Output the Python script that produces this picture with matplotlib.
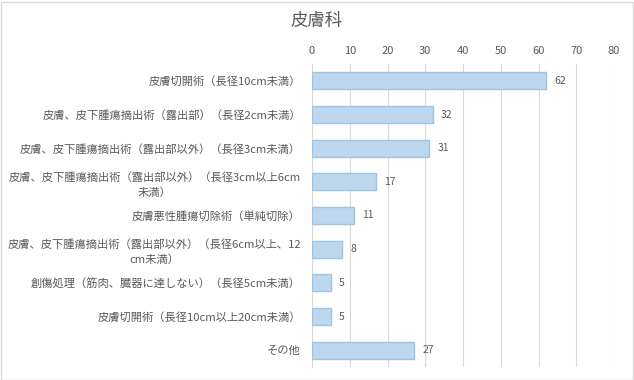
import matplotlib
matplotlib.use("Agg")
import matplotlib.pyplot as plt
from matplotlib.patches import Rectangle

plt.rcParams['font.family'] = ['Noto Sans CJK JP', 'DejaVu Sans']

categories = [
    "皮膚切開術（長径10cm未満）",
    "皮膚、皮下腫瘍摘出術（露出部）（長径2cm未満）",
    "皮膚、皮下腫瘍摘出術（露出部以外）（長径3cm未満）",
    "皮膚、皮下腫瘍摘出術（露出部以外）（長径3cm以上6cm\n未満）",
    "皮膚悪性腫瘍切除術（単純切除）",
    "皮膚、皮下腫瘍摘出術（露出部以外）（長径6cm以上、12\ncm未満）",
    "創傷処理（筋肉、臓器に達しない）（長径5cm未満）",
    "皮膚切開術（長径10cm以上20cm未満）",
    "その他",
]
values = [62, 32, 31, 17, 11, 8, 5, 5, 27]
ticks = [0, 10, 20, 30, 40, 50, 60, 70, 80]

text_color = "#595959"

fig = plt.figure(figsize=(6.34, 3.80), dpi=100)
ax = fig.add_axes([312 / 634, 13 / 380, 302 / 634, 303 / 380])

ypos = list(range(len(values)))
ax.barh(ypos, values, height=0.5, color="#BDD7EE", edgecolor="#9DC3E6", linewidth=1, zorder=3)
for y, v in zip(ypos, values):
    ax.text(v + 2.2, y, str(v), va="center", ha="left", fontsize=7.5, color=text_color)

ax.set_xlim(0, 80)
ax.set_ylim(len(values) - 0.5, -0.5)
ax.set_xticks(ticks)
ax.xaxis.tick_top()
ax.tick_params(axis="x", length=0, labelsize=8, labelcolor=text_color, pad=6)
ax.set_yticks(ypos)
ax.set_yticklabels(categories, multialignment="center", linespacing=1.45)
ax.tick_params(axis="y", length=0, labelsize=8.1, labelcolor=text_color, pad=8)
ax.grid(axis="x", color="#D9D9D9", linewidth=0.8, zorder=0)
for s in ["top", "right", "bottom"]:
    ax.spines[s].set_visible(False)
ax.spines["left"].set_color("#D9D9D9")
ax.spines["left"].set_linewidth(0.8)

fig.text(317 / 634, 1 - 21 / 380, "皮膚科", ha="center", va="center", fontsize=12.5, color=text_color)
fig.patches.append(Rectangle((0.5 / 634, 0.5 / 380), 632 / 634, 378 / 380, transform=fig.transFigure,
                             fill=False, edgecolor="#D9D9D9", linewidth=1))

fig.savefig("out.png", dpi=100)
